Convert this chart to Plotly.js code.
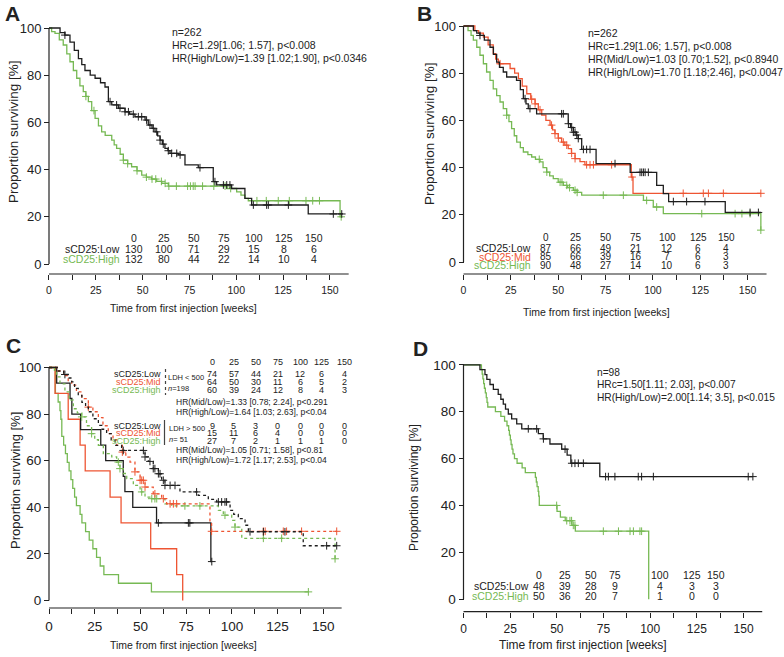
<!DOCTYPE html>
<html><head><meta charset="utf-8">
<script src="https://cdn.plot.ly/plotly-3.0.1.min.js"></script>
<style>html,body{margin:0;padding:0;background:#fff}#chart{width:784px;height:657px}</style>
</head><body><div id="chart"></div>
<script>
// ---------------- DATA ----------------
const riskTimes = [0, 25, 50, 75, 100, 125, 150];
const xTickVals = [0, 12.5, 25, 37.5, 50, 62.5, 75, 87.5, 100, 112.5, 125, 137.5, 150];
const xTickText = ['0', '', '25', '', '50', '', '75', '', '100', '', '125', '', '150'];
const yTickVals = [0, 20, 40, 60, 80, 100];

// Panel A
const aLowT = [0,5.9,8.5,11.2,13.5,15.7,17.5,19.2,22,24.6,27.5,29.9,31.7,33.5,37,40.6,43,45.9,51.3,53,55,56.6,58,59.3,60.5,61.9,63.5,64.6,69,72.6,79.7,87.7,89.5,97.5,104.6,108.2,138.4];
const aLowS = [100,98,97,94,90.5,87,84.5,82,80,78.7,76.8,75,68.8,67.4,66,64.5,63.5,62.4,61,58.9,57.5,56,54.3,52.5,50.8,49,48,46.9,46.2,42,40.8,34.9,33.5,32,27.8,25,21.2];
const aLowEnd = 157;
const aLowC = [8.5,32.6,36.1,37.9,40.6,42.4,45,47.7,49.5,52.1,53.9,55.7,57.5,59.3,61,63.7,65.5,68.2,70,80.6,88.6,93.1,94.9,96.6,109.1,116.2,117.1,127.8,151.8,156.3];
const aHighT = [0,1.4,3.2,5.5,7.6,9.5,11.2,13,14.8,16.5,18.3,19.7,21,22.8,24.6,26.4,28.1,30,33.5,34.8,36.1,38,39.7,42,44.1,47,49.5,52,54.8,57.5,60.2,63.7,95,100.2,102.5,104.6,106.4,155.4];
const aHighS = [100,98.5,97.7,95,92.8,89,85.7,82,78.7,75.5,73,71,68.8,65,61.7,58.5,56,54.5,52.5,50.5,49,46.5,44,42.5,41.2,39.5,37.7,36.8,36,35,34.2,33,32,30.6,29.2,27.8,26.8,20];
const aHighEnd = 156;
const aHighC = [19.7,24,39.7,42,47,52,55,57,60,62,64,68,74,75.5,77,78,82,88,94,97,111,116,122.4,128.3,137.2,140.8,144.4,156];
const aRiskLow = [130, 100, 71, 29, 15, 8, 6];
const aRiskHigh = [132, 80, 44, 22, 14, 10, 4];

// Panel B
const bLowT = [0,5.2,7,8.7,11,14,15.8,17.5,19,21,22.8,28,30,31.6,33,34.2,38.6,55.3,56.5,58,59.5,60.6,62.4,70,88,102,105.5,108.3,138.2];
const bLowS = [100,98,97,96,94,91,88,84.7,82.5,80.5,78.4,77,73,69.2,67,65,62.8,58.6,57,55,53.8,52.3,47.7,41.7,38,32.5,29,25.6,21];
const bLowEnd = 157;
const bLowC = [8.7,32.5,35.1,51.8,52.7,55.4,57.1,58,58.9,59.8,60.6,63.3,65,66.8,80,93.2,94.1,95,95.9,97.6,110.8,117.8,127.5,151.3,155.7];
const bMidT = [0,6,8,10.5,13,15.7,17,18.4,24.6,27,29,31,33.4,35.5,37.8,39.5,41.3,43.5,45.7,47,48.3,50,51.8,53.5,55.3,57,58.9,61.5,64.1,88.6,89.5];
const bMidS = [100,98,97,95.3,92,88.3,86,84,82,80,77.7,74.5,71.3,69,67,64.5,62.2,60,58,56,54.4,52.5,50.8,49.5,48,46,43.8,42.5,41.2,36,29.1];
const bMidEnd = 157;
const bMidC = [19.3,36,37.8,40.4,46.5,48.3,50.1,52.7,54.5,57.1,58.9,65,66.8,68.6,78.2,89,116,126.6,129.3,137.2,157];
const bHighT = [0,2.4,4,5.2,7,8.7,10.5,12.2,14,15.7,17.5,19.3,21,22.8,24,25.4,26.8,28.1,30,31.6,34,36,38,40.4,42,43.9,45.5,47.4,50,52.7,55,58,60,62.4,95,100.2,105.5,157];
const bHighS = [100,98,96,94,91,87.6,84,80.5,77,73.4,70.5,67.8,65,62.2,59.5,56.5,53.5,50.8,48.5,46.6,45.5,44.5,43.5,42.4,40,38.1,36.5,35.3,33.8,32.5,31.5,30.4,29.5,28.3,26.1,23.3,20.5,13.5];
const bHighEnd = 157;
const bHighC = [22.8,40,44,51,52,54.5,56,58.9,60,73.8,84.4,96.7,102,125.8,143.4,147,151.3,157];
const bRiskLow = [87, 66, 49, 21, 12, 6, 4];
const bRiskMid = [85, 66, 39, 16, 7, 6, 3];
const bRiskHigh = [90, 48, 27, 14, 10, 6, 3];

// Panel C  (dotted: LDH < 500, solid: LDH > 500)
const cLowLtT = [0,5,8,10.5,12.4,14,16,18,20,21.5,24,27,29,31.5,34,36.1,39.7,52.5,54.3,57,59.8,61.6,63.4,71.6,81.6,87.1,91.7,99,101,103.5,107.2,109,139];
const cLowLtS = [100,98.5,97,95.5,93.8,91,88,85,83,81,78,75.2,73.5,71.6,69,66.6,64.4,61.6,59.7,56.6,54.4,51.6,49.4,46.6,45.1,43.4,42.3,38.7,37,35.1,32.3,29.5,23.5];
const cLowLtEnd = 157.3;
const cLowLtC = [8.7,40.6,51.6,52.5,55.2,57,57.9,59.8,60.7,62.5,63.4,66.2,68.9,80.7,92.6,94.4,96.2,97.1,109.9,117.2,129,151.8,157.3];
const cMidLtT = [0,5,8,10.5,12.4,15,17.9,21.5,24,27,29.5,32.4,35,37,40.1,42,44.3,47,49.8,52.5,57,61.6,64.3,88,88.9];
const cMidLtS = [100,98.5,96.5,94,92.4,89.5,86.6,83,81,78.5,75,71.6,69,66.6,63.7,61.5,59.4,55.2,51.6,48.7,45.8,43.7,41.5,33.7,29.7];
const cMidLtEnd = 157.3;
const cMidLtC = [21.5,40.1,47,49.8,50.7,51.6,52.5,57.9,62.5,66.2,68,69.8,88.9,117.2,118.2,128.1,129.9,138.1,157.3];
const cHighLtT = [0,3,4.2,6,8.7,11,13.3,15.5,17.9,20.5,23.3,25,27,29.7,34.3,37,38.8,40.5,42.5,46.1,49.8,52.5,56.2,63.4,67.1,92.6,95.3,99.9,101.7,105.4,156.4];
const cHighLtS = [100,98,96,93,89.5,86,82.3,80.5,78.8,75,71.6,69,66.6,63,61.6,59.4,56.6,54.5,52.3,49.4,46.6,44.4,43.7,41.5,40.6,38.7,36.6,34.4,31.5,26.7,17.9];
const cHighLtEnd = 156.4;
const cHighLtC = [17.9,23.3,37.9,38.8,50.7,56.2,57.9,58.9,74.3,82.5,96.2,101.7,117.2,127.2,156.4];
const cLowGtT = [0,4.2,11.5,12.5,17.3,28.3,31,40.6,41.5,45.8,58.8,88.5];
const cLowGtS = [100,93.3,86.7,80,73.3,66.7,60,53.3,46.7,40,33.3,16.7];
const cLowGtEnd = 89;
const cLowGtC = [59.8,76.2,77,89];
const cMidGtT = [0,3.3,10.5,17,19.8,33.4,39.4,55.6,69.8,73.1];
const cMidGtS = [100,88.9,77.8,66.7,55.6,44.4,33.3,22.2,11.1,0];
const cMidGtEnd = 73.1;
const cMidGtC = [];
const cHighGtT = [0,3.5,5,6,6.5,7,8,9,10,11,12,13,14,15,17,18,20,22,24,26,28,30,38,56];
const cHighGtS = [100,88.9,85.2,81.5,77.8,70.4,66.7,63,59.3,55.6,51.9,48.1,44.4,40.7,37,33.3,29.6,25.9,22.2,18.5,14.8,11.1,7.4,3.7];
const cHighGtEnd = 141.8;
const cHighGtC = [141.8];
const cRiskLowLt = [74, 57, 44, 21, 12, 6, 4];
const cRiskMidLt = [64, 50, 30, 11, 6, 5, 2];
const cRiskHighLt = [60, 39, 24, 12, 8, 4, 3];
const cRiskLowGt = [9, 5, 3, 0, 0, 0, 0];
const cRiskMidGt = [15, 11, 6, 4, 0, 0, 0];
const cRiskHighGt = [27, 7, 2, 1, 1, 1, 0];

// Panel D
const dLowT = [0,8.8,11.5,12.5,14.2,16,18.6,20,21.3,22.5,24,25.8,28.5,31.2,40.1,42.7,46.3,52.6,55.5,57.5,73];
const dLowS = [100,97.9,95.8,93.8,91.6,89.5,87.4,85.3,83.2,81.1,79,76.9,74.8,72.7,70.6,68.4,66.2,64,61.5,58,52.3];
const dLowEnd = 155;
const dLowC = [34.7,39.2,42.8,54.4,58,59.7,61.5,64.2,76.1,77.6,81.1,93.6,95.4,101.7,152.5,155];
const dHighT = [0,9.6,10,10.4,10.8,11.2,11.7,12.2,12.6,13,17.1,20,22,23.3,24.2,24.6,25.1,25.5,26,26.5,27.3,28.7,31.4,33.1,38.5,39,39.4,40,40.3,40.6,50.1,51.9,54.5,58.1,59.9,99.2];
const dHighS = [100,98,96,94,92,90,88,86,84,82,80,78,76,74,72,70,68,66,64,62,60,58,56,54,52,50,48,46,44,40,37.5,35,33.5,31.5,29,0];
const dHighEnd = 99.2;
const dHighC = [49.9,55.3,57,57.9,58.8,59.7,74.9,83,89.2,91,94.5,95.4];
const dRiskLow = [48, 39, 28, 9, 4, 3, 3];
const dRiskHigh = [50, 36, 20, 7, 1, 0, 0];

// ---------------- STYLE / GEOMETRY ----------------
const W = 784, H = 657;
const BLACK = '#1e1e1e', RED = '#ee5533', GREEN = '#76b953';
const FONT = 'Liberation Sans, Arial, Helvetica, sans-serif';
const px = v => v / W, py = v => 1 - v / H;

const panels = [
  {id: '', x0: 49, kx: 1.873, y0: 264, ky: 2.36, axY: 274, xEnd: 160, xt: 10.5, yt: 13},
  {id: '2', x0: 463.5, kx: 1.894, y0: 262, ky: 2.36, axY: 274, xEnd: 160, xt: 10.5, yt: 13},
  {id: '3', x0: 49, kx: 1.829, y0: 600.5, ky: 2.33, axY: 608, xEnd: 160, xt: 13.5, yt: 13.5},
  {id: '4', x0: 463.5, kx: 1.867, y0: 599.2, ky: 2.344, axY: 611.7, xEnd: 160, xt: 12, yt: 13.5}
];
const XR = [-4, 164], YR = [-6, 104];

const layout = {
  width: W, height: H, autosize: false,
  margin: {l: 0, r: 0, t: 0, b: 0, pad: 0},
  paper_bgcolor: '#fff', plot_bgcolor: 'rgba(0,0,0,0)',
  showlegend: false, font: {family: FONT, color: '#222'},
  shapes: [], annotations: []
};

panels.forEach(p => {
  const xd = [px(p.x0 + XR[0] * p.kx), px(p.x0 + XR[1] * p.kx)];
  const yd = [py(p.y0 - YR[0] * p.ky), py(p.y0 - YR[1] * p.ky)];
  layout['xaxis' + p.id] = {
    domain: xd, range: XR, anchor: 'free', position: py(p.axY),
    showgrid: false, zeroline: false, showline: false,
    ticks: 'outside', ticklen: 5, tickwidth: 1, tickcolor: '#222', ticklabelstandoff: 1,
    tickmode: 'array', tickvals: xTickVals, ticktext: xTickText,
    tickfont: {family: FONT, size: p.xt, color: '#222'}, fixedrange: true
  };
  layout['yaxis' + p.id] = {
    domain: yd, range: YR, anchor: 'free', position: px(p.x0),
    showgrid: false, zeroline: false, showline: false,
    ticks: 'outside', ticklen: 5, tickwidth: 1, tickcolor: '#222',
    tickmode: 'array', tickvals: yTickVals,
    tickfont: {family: FONT, size: p.yt, color: '#222'}, fixedrange: true
  };
  layout.shapes.push({type: 'line', xref: 'paper', yref: 'y' + p.id, x0: px(p.x0), x1: px(p.x0), y0: 0, y1: 100, line: {color: '#222', width: 1.2}});
  layout.shapes.push({type: 'line', xref: 'x' + p.id, yref: 'paper', x0: 0, x1: p.xEnd, y0: py(p.axY), y1: py(p.axY), line: {color: '#222', width: 1.2}});
});

function survAt(T, S, c) { let v = S[0]; for (let i = 0; i < T.length; i++) if (T[i] <= c) v = S[i]; return v; }
const traces = [];
function curve(T, S, end, C, color, dash, id) {
  traces.push({type: 'scatter', mode: 'lines', x: T.concat([end]), y: S.concat([S[S.length - 1]]),
    line: {shape: 'hv', color: color, width: 1.3, dash: dash}, xaxis: 'x' + id, yaxis: 'y' + id, hoverinfo: 'skip'});
  if (C.length) traces.push({type: 'scatter', mode: 'markers', x: C, y: C.map(c => survAt(T, S, c)),
    marker: {symbol: 'cross-thin', size: 5.5, color: color, line: {color: color, width: 1}},
    cliponaxis: false, xaxis: 'x' + id, yaxis: 'y' + id, hoverinfo: 'skip'});
}
curve(aHighT, aHighS, aHighEnd, aHighC, GREEN, 'solid', '');
curve(aLowT, aLowS, aLowEnd, aLowC, BLACK, 'solid', '');
curve(bHighT, bHighS, bHighEnd, bHighC, GREEN, 'solid', '2');
curve(bMidT, bMidS, bMidEnd, bMidC, RED, 'solid', '2');
curve(bLowT, bLowS, bLowEnd, bLowC, BLACK, 'solid', '2');
curve(cHighGtT, cHighGtS, cHighGtEnd, cHighGtC, GREEN, 'solid', '3');
curve(cMidGtT, cMidGtS, cMidGtEnd, cMidGtC, RED, 'solid', '3');
curve(cLowGtT, cLowGtS, cLowGtEnd, cLowGtC, BLACK, 'solid', '3');
curve(cHighLtT, cHighLtS, cHighLtEnd, cHighLtC, GREEN, 'dot', '3');
curve(cMidLtT, cMidLtS, cMidLtEnd, cMidLtC, RED, 'dot', '3');
curve(cLowLtT, cLowLtS, cLowLtEnd, cLowLtC, BLACK, 'dot', '3');
curve(dHighT, dHighS, dHighEnd, dHighC, GREEN, 'solid', '4');
curve(dLowT, dLowS, dLowEnd, dLowC, BLACK, 'solid', '4');

// ---------------- TEXT ----------------
function txt(x, y, text, size, opt) {
  opt = opt || {};
  layout.annotations.push({xref: 'paper', yref: 'paper', x: px(x), y: py(y), text: text, showarrow: false,
    xanchor: opt.xa || 'left', yanchor: 'middle', textangle: opt.angle || 0, borderpad: 0,
    font: {family: FONT, size: size, color: opt.color || '#222'}});
}
function riskRows(cols, yHead, rows, size) {
  riskTimes.forEach((t, i) => txt(cols[i], yHead, String(t), size, {xa: 'center'}));
  rows.forEach(r => r.vals.forEach((v, i) => txt(cols[i], r.y, String(v), size, {xa: 'center'})));
}
// Panel letters
txt(12, 13, '<b>A</b>', 21, {xa: 'center'});
txt(424, 13, '<b>B</b>', 21, {xa: 'center'});
txt(13, 345, '<b>C</b>', 21, {xa: 'center'});
txt(420, 348, '<b>D</b>', 21, {xa: 'center'});
// axis titles
txt(13, 132, 'Proportion surviving [%]', 13.5, {xa: 'center', angle: -90});
txt(429, 134, 'Proportion surviving [%]', 13.5, {xa: 'center', angle: -90});
txt(15, 481, 'Proportion surviving [%]', 13, {xa: 'center', angle: -90});
txt(414, 487, 'Proportion surviving [%]', 12, {xa: 'center', angle: -90});
txt(183, 308, 'Time from first injection [weeks]', 10.5, {xa: 'center'});
txt(596, 312, 'Time from first injection [weeks]', 10.5, {xa: 'center'});
txt(183, 645, 'Time from first injection [weeks]', 10.5, {xa: 'center'});
txt(583, 645, 'Time from first injection [weeks]', 12, {xa: 'center'});

// Panel A text
txt(171, 32, 'n=262', 10.5);
txt(171, 45, 'HRc=1.29[1.06; 1.57], p<0.008', 10.5);
txt(171, 58, 'HR(High/Low)=1.39 [1.02;1.90], p<0.0346', 10.5);
const aCols = [133.5, 163.5, 193.5, 223.5, 254, 284, 313.5];
riskRows(aCols, 237.5, [{y: 248.5, vals: aRiskLow}, {y: 258.5, vals: aRiskHigh}], 10.5);
txt(121, 248.5, 'sCD25:Low', 10.5, {xa: 'right'});
txt(121, 258.5, 'sCD25:High', 10.5, {xa: 'right', color: GREEN});

// Panel B text
txt(587, 33, 'n=262', 10.5);
txt(587, 46, 'HRc=1.29[1.06; 1.57], p<0.008', 10.5);
txt(587, 59, 'HR(Mid/Low)=1.03 [0.70;1.52], p<0.8940', 10.5);
txt(587, 72, 'HR(High/Low)=1.70 [1.18;2.46], p<0.0047', 10.5);
const bCols = [546, 575.5, 605.5, 635.5, 667, 698, 726];
riskRows(bCols, 237.5, [{y: 248.3, vals: bRiskLow}, {y: 256.7, vals: bRiskMid}, {y: 265, vals: bRiskHigh}], 10);
txt(532, 248.3, 'sCD25:Low', 10.5, {xa: 'right'});
txt(532, 256.7, 'sCD25:Mid', 10.5, {xa: 'right', color: RED});
txt(532, 265, 'sCD25:High', 10.5, {xa: 'right', color: GREEN});

// Panel C text
const cCols = [212, 233.5, 255.7, 277.7, 300, 321.7, 344];
riskTimes.forEach((t, i) => txt(cCols[i], 361.7, String(t), 9, {xa: 'center'}));
[{y: 374, vals: cRiskLowLt}, {y: 382, vals: cRiskMidLt}, {y: 390, vals: cRiskHighLt},
 {y: 425.5, vals: cRiskLowGt}, {y: 433.3, vals: cRiskMidGt}, {y: 441, vals: cRiskHighGt}]
  .forEach(r => r.vals.forEach((v, i) => txt(cCols[i], r.y, String(v), 9, {xa: 'center'})));
[[374, 425.5, 'sCD25:Low', '#222'], [382, 433.3, 'sCD25:Mid', RED], [390, 441, 'sCD25:High', GREEN]].forEach(r => {
  txt(162, r[0], r[2], 9, {xa: 'right', color: r[3]});
  txt(162, r[1], r[2], 9, {xa: 'right', color: r[3]});
});
txt(167, 377, 'LDH < 500', 7.5);
txt(167, 388, '<i>n</i>=198', 7.5);
txt(168, 428, 'LDH > 500', 7.5);
txt(168, 439, '<i>n</i>= 51', 7.5);
txt(175, 401.7, 'HR(Mid/Low)=1.33 [0.78; 2.24], p<0.291', 8.5);
txt(175, 411.5, 'HR(High/Low)=1.64 [1.03; 2.63], p<0.04', 8.5);
txt(175, 450.3, 'HR(Mid/Low)=1.05 [0.71; 1.58], p<0.81', 8.5);
txt(175, 460, 'HR(High/Low)=1.72 [1.17; 2.53], p<0.04', 8.5);
layout.shapes.push({type: 'line', xref: 'paper', yref: 'paper', x0: px(165.5), x1: px(165.5), y0: py(369), y1: py(395), line: {color: '#444', width: 1.2, dash: 'dot'}});
layout.shapes.push({type: 'line', xref: 'paper', yref: 'paper', x0: px(164.5), x1: px(164.5), y0: py(420), y1: py(445), line: {color: '#444', width: 1.2}});

// Panel D text
txt(596, 372, 'n=98', 10.2);
txt(596, 384.5, 'HRc=1.50[1.11; 2.03], p<0.007', 10.2);
txt(596, 397, 'HR(High/Low)=2.00[1.14; 3.5], p<0.015', 10.2);
const dCols = [539, 565, 591, 615, 660, 692, 716];
riskRows(dCols, 575, [{y: 586, vals: dRiskLow}, {y: 596, vals: dRiskHigh}], 10.5);
txt(530, 586, 'sCD25:Low', 10.5, {xa: 'right'});
txt(530, 596, 'sCD25:High', 10.5, {xa: 'right', color: GREEN});

Plotly.newPlot('chart', traces, layout, {staticPlot: true, displayModeBar: false});
</script></body></html>
